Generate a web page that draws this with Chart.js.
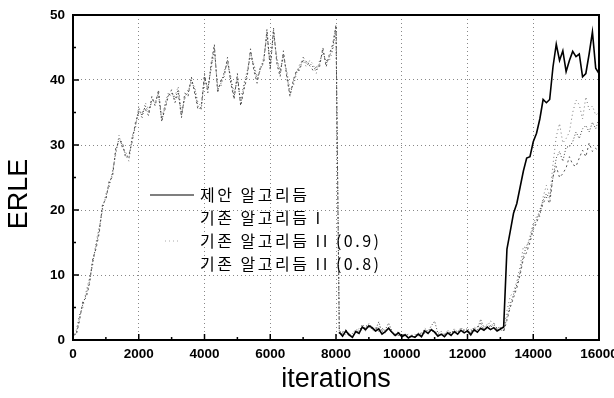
<!DOCTYPE html>
<html>
<head>
    <meta charset="utf-8" />
    <title>ERLE</title>
    <script src="https://cdn.jsdelivr.net/npm/chart.js@4/dist/chart.umd.min.js"></script>
    <style>
        html, body { margin: 0; padding: 0; background: #fff; }
    </style>
</head>
<body>
    <canvas id="erle-chart" width="614" height="398"></canvas>
<script>
    // sampled every 100 iterations, 0..16000
    var step = 100;

    var seriesI = [
        0.5,1,3.5,5.5,7,9,12,14.5,17,20.5,
        22,24,25.5,29,31,30,28.5,28,31,33,
        35.5,34.5,36,35,37,36.5,38,33.6,36,37.7,
        38,37,38.5,34.5,37.5,38,40,38.5,36,35.4,
        40.5,38.5,42,45,38.5,39.5,41,43,40,37.4,
        40.5,36.2,39,41,44.4,42,40,41.8,43,47.4,
        42,47.7,43,41,44,41,37.7,39.5,41.3,42,
        43.1,42.5,42.6,42,41.5,42.5,44.6,42.5,43.6,45,
        48.2,
        1.5,0.8,1.2,0.6,1.0,1.6,1.3,2.4,1.8,2.5,
        2.0,1.5,2.8,1.2,1.6,2.6,1.4,0.9,1.3,0.6,
        1.0,0.4,0.8,0.5,1.1,0.7,1.8,1.3,2.2,2.9,
        1.0,1.3,0.7,1.5,1.0,1.7,1.2,1.9,1.4,1.8,
        1.1,2.0,1.6,3.2,1.9,2.4,2.0,2.3,1.8,2.0,
        1.4,3.5,5.5,7,8.5,10.5,13,14.5,15.5,17.5,
        18.5,20,21.5,22.5,21.8,25,28,29,27.5,29.7,
        29.7,30.5,32,31,32.5,33,32,33.5,32.5,34
    ];

    var seriesII09 = [
        0.3,1.5,4,5,7.5,9.5,11.5,15,17.5,20,
        22.5,23.5,26,28.5,31.5,29.5,29,27.5,31.5,32.5,
        36,34,36.5,35.5,36.5,37,37.5,34,36.5,38,
        37.5,37.5,39,35,37,38.5,39.5,39,36.5,36,
        40,39,41.5,44.5,39,39,41.5,42.5,40.5,38,
        40,37,39.5,41.5,43.5,42.5,40.5,41.5,43.5,46.5,
        42.5,47,43.5,41.5,43.5,41.5,38.5,39,41,42.5,
        43,42,43,42.5,41,43,44,43,43,44.5,
        47.5,
        1.0,1.4,0.7,1.1,0.5,1.2,1.8,1.5,2.3,2.0,
        1.6,1.2,2.2,1.5,1.1,2.0,1.0,0.6,1.0,0.4,
        0.7,0.6,0.3,0.9,0.6,1.2,1.0,1.7,1.3,1.5,
        0.8,1.0,0.5,1.2,0.8,1.5,1.0,1.6,1.2,1.5,
        1.0,1.8,1.3,2.2,1.6,2.0,3.0,1.8,1.5,1.9,
        1.5,4.5,6.7,7.5,9,11.3,14.4,14,16,18,
        19,19,22,23.8,22,27,31.3,33.3,30.3,31,
        32,35,36.9,36.2,34,37.4,35.4,36,34.6,35
    ];

    var seriesII08 = [
        0.8,0.8,3,6,6.5,8.5,12.5,14,16.5,21,
        21.5,24.5,25,29.5,30.5,30.5,28,28.5,30.5,33.5,
        35,35,35.5,34.5,37.5,36,38.5,33.8,35.5,37.5,
        38.5,36.5,38,34.2,38,37.5,40.5,38,35.5,35.8,
        41,38,42.5,45.5,38,40,40.5,43.5,39.5,37,
        41,36,38.5,40.5,44.8,41.5,39.5,42,42.5,47.8,
        41.5,48,42.5,40.5,44.5,40.5,37.5,40,41.5,41.5,
        43.5,42.8,42.2,41.5,42,42,45,42,44,45.5,
        48.5,
        0.9,1.1,1.6,0.9,0.7,1.0,1.5,1.9,1.4,2.1,
        1.7,1.9,1.3,1.8,1.3,1.7,1.2,0.8,0.7,0.8,
        0.5,0.9,0.6,0.4,0.8,1.0,1.5,1.1,1.5,1.1,
        0.7,0.8,0.9,1.0,1.2,1.1,1.4,1.3,1.6,1.2,
        1.6,1.2,2.0,2.6,1.5,1.8,2.2,2.6,1.7,1.6,
        1.3,3,5,6.5,8,10,12.5,13.5,15,17,
        18,19.5,21,22,21,25.1,26.7,25,25.6,26.5,
        28.2,27,26.7,28,29.2,28.2,30.3,29,29.5,29
    ];

    // proposed algorithm, from 8100 on
    var proposedStart = 8100;
    var proposed = [
        1.2,0.6,1.4,0.8,0.4,1.3,1.0,2.0,1.6,2.2,
        1.9,1.4,1.7,0.9,1.3,1.8,1.2,0.7,1.1,0.5,
        0.8,0.3,0.6,0.4,0.9,0.5,1.4,1.0,1.6,1.2,
        0.6,0.9,0.5,1.1,0.7,1.3,0.9,1.5,1.1,1.4,
        0.8,1.6,1.2,1.8,1.5,2.0,1.6,1.9,1.4,1.7,
        2,14,16.7,19.5,21,23.5,26,28,28.2,30.5,
        31.8,34,37,36.5,37,42,45.5,43,44.5,41.3,
        43,44.4,43.6,44,40.5,41,44,47.4,41.8,41
    ];

    var legendLabels = ['제안 알고리듬', '기존 알고리듬 I', '기존 알고리듬 II (0.9)', '기존 알고리듬 II (0.8)'];
    var xTicks = [0, 2000, 4000, 6000, 8000, 10000, 12000, 14000, 16000];
    var yTicks = [0, 10, 20, 30, 40, 50];

    function toPoints(values, start) {
        return values.map(function(v, i) { return { x: start + i * step, y: v }; });
    }

    var tickFont = { family: 'Liberation Sans, Arial', size: 13.5, weight: 'bold' };

    // frame, inward ticks, legend and y title
    var extras = {
        id: 'extras',
        afterDraw: function(chart) {
            var ctx = chart.ctx;
            var a = chart.chartArea;
            var xs = chart.scales.x, ys = chart.scales.y;
            ctx.save();
            ctx.strokeStyle = '#000';
            ctx.lineWidth = 2;
            ctx.strokeRect(a.left, a.top, a.right - a.left, a.bottom - a.top);

            ctx.lineWidth = 1.5;
            ctx.beginPath();
            for (var v = 0; v <= 16000; v += 1000) {
                var px = xs.getPixelForValue(v);
                var len = (v % 2000 === 0) ? 6 : 3;
                ctx.moveTo(px, a.bottom); ctx.lineTo(px, a.bottom - len);
            }
            for (var w = 0; w <= 50; w += 5) {
                var py = ys.getPixelForValue(w);
                var len2 = (w % 10 === 0) ? 6 : 3;
                ctx.moveTo(a.left, py); ctx.lineTo(a.left + len2, py);
            }
            ctx.stroke();

            // legend
            ctx.font = '16px "Noto Sans CJK KR"';
            ctx.letterSpacing = '2.5px';
            ctx.fillStyle = '#000';
            ctx.textBaseline = 'middle';
            ctx.textAlign = 'left';
            var rows = [195, 218, 241, 264];
            for (var i = 0; i < legendLabels.length; i++) {
                ctx.fillText(legendLabels[i], 200, rows[i]);
            }
            ctx.letterSpacing = '0px';
            ctx.lineWidth = 1.2;
            ctx.beginPath();
            ctx.moveTo(150, rows[0]); ctx.lineTo(194, rows[0]);
            ctx.stroke();
            ctx.strokeStyle = '#aaa';
            ctx.lineWidth = 1;
            ctx.setLineDash([1, 3]);
            ctx.beginPath();
            ctx.moveTo(165, rows[2]); ctx.lineTo(181, rows[2]);
            ctx.stroke();
            ctx.setLineDash([]);

            // y title
            ctx.translate(20, 194);
            ctx.rotate(-Math.PI / 2);
            ctx.textAlign = 'center';
            ctx.fillStyle = '#000';
            ctx.font = '27px "Liberation Sans", Arial';
            ctx.fillText('ERLE', 0, 0);
            ctx.restore();
        }
    };

    var ctx = document.getElementById('erle-chart');
    new Chart(ctx, {
        type: 'line',
        data: {
            datasets: [
                {
                    label: legendLabels[0],
                    data: toPoints(proposed, proposedStart),
                    borderColor: '#000',
                    borderWidth: 1.6,
                    pointRadius: 0,
                    tension: 0
                },
                {
                    label: legendLabels[1],
                    data: toPoints(seriesI, 0),
                    borderColor: '#444',
                    borderWidth: 1,
                    borderDash: [1, 2],
                    pointRadius: 0,
                    tension: 0
                },
                {
                    label: legendLabels[2],
                    data: toPoints(seriesII09, 0),
                    borderColor: '#777',
                    borderWidth: 1,
                    borderDash: [1, 3],
                    pointRadius: 0,
                    tension: 0
                },
                {
                    label: legendLabels[3],
                    data: toPoints(seriesII08, 0),
                    borderColor: '#555',
                    borderWidth: 1,
                    borderDash: [2, 3],
                    pointRadius: 0,
                    tension: 0
                }
            ]
        },
        options: {
            responsive: false,
            animation: false,
            layout: { padding: { top: 15, right: 15, left: 0, bottom: 0 } },
            plugins: {
                legend: { display: false },
                tooltip: { enabled: false }
            },
            scales: {
                x: {
                    type: 'linear',
                    min: 0,
                    max: 16000,
                    afterBuildTicks: function(scale) {
                        scale.ticks = xTicks.map(function(v) { return { value: v }; });
                    },
                    afterFit: function(scale) {
                        scale.height = 58;
                        scale.paddingLeft = 0;
                        scale.paddingRight = 0;
                    },
                    ticks: {
                        color: '#000',
                        font: tickFont,
                        padding: 6,
                        maxRotation: 0,
                        autoSkip: false,
                        callback: function(v) { return String(v); }
                    },
                    grid: { color: '#888', drawTicks: false },
                    border: { display: false, dash: [1, 3] },
                    title: {
                        display: true,
                        text: 'iterations',
                        color: '#000',
                        font: { family: 'Liberation Sans, Arial', size: 27 },
                        padding: { top: 0, bottom: 2 }
                    }
                },
                y: {
                    min: 0,
                    max: 50,
                    afterBuildTicks: function(scale) {
                        scale.ticks = yTicks.map(function(v) { return { value: v }; });
                    },
                    afterFit: function(scale) {
                        scale.width = 73;
                        scale.paddingTop = 0;
                        scale.paddingBottom = 0;
                    },
                    ticks: {
                        color: '#000',
                        font: tickFont,
                        padding: 8,
                        callback: function(v) { return String(v); }
                    },
                    grid: { color: '#888', drawTicks: false },
                    border: { display: false, dash: [1, 3] }
                }
            }
        },
        plugins: [extras]
    });
</script>
</body>
</html>
